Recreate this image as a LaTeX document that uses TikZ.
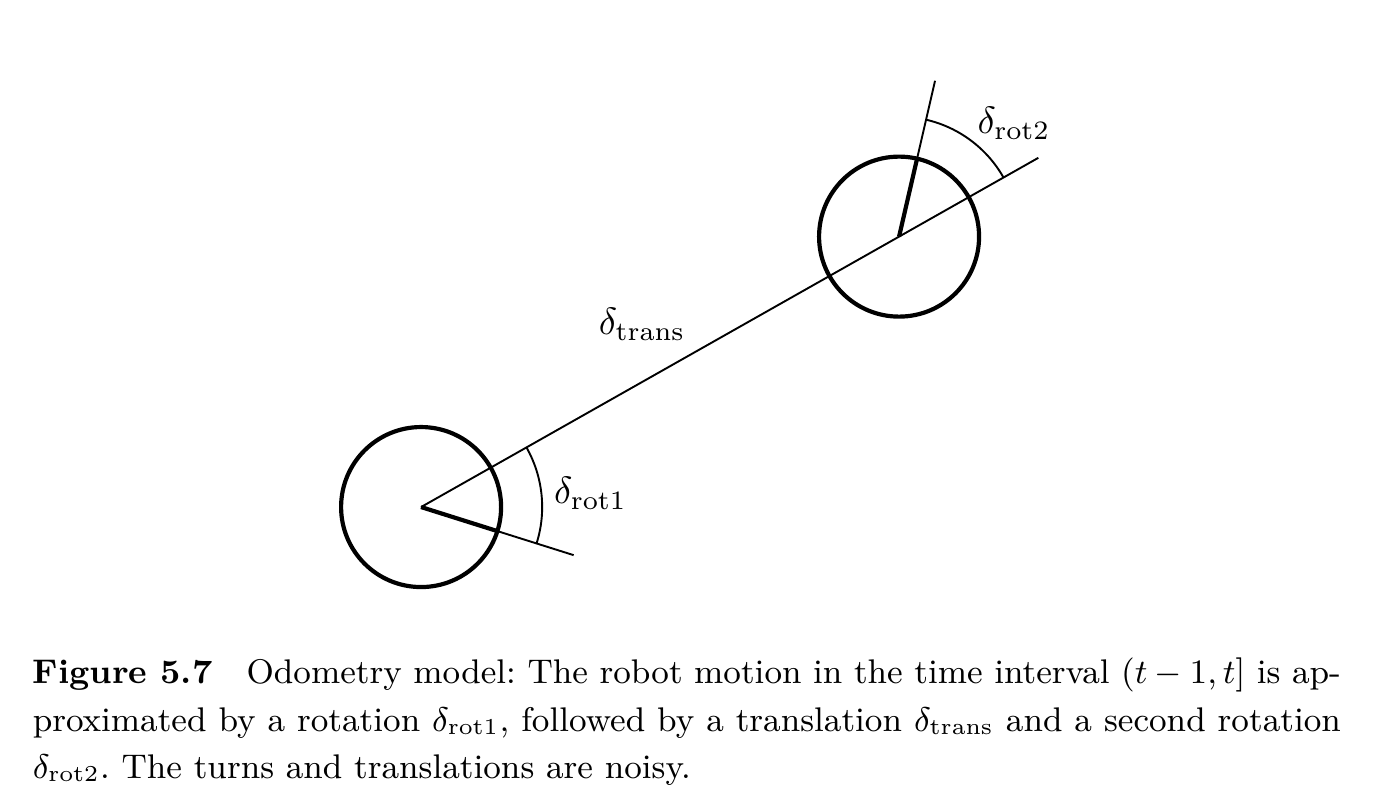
\documentclass[tikz,border=0pt]{standalone}
\usepackage{fix-cm}
\begin{document}
\begin{tikzpicture}
            \useasboundingbox (0, 0) rectangle (12.70, 7.447);
            \coordinate (a) at (3.895, 2.757);
            \coordinate (b) at ([shift={(29.5:5.08)}]a);
            \draw[line width=1.1pt] (a) circle (0.74);
            \draw[line width=1.1pt] (b) circle (0.74);
            \draw[line width=1.1pt] (a) -- ++(-17.5:0.74);
            \draw[line width=1.1pt] (b) -- ++(77:0.74);
            \draw[line width=0.5pt] (a) -- ++(-17.5:1.48);
            \draw[line width=0.5pt] (b) -- ++(77:1.48);
            \draw[line width=0.5pt] (a) -- (b) -- ++(29.5:1.48);
            \draw[line width=0.5pt] ([shift={(-17.5:1.12)}]a) arc (-17.5:29.5:1.12);
            \draw[line width=0.5pt] ([shift={(29.5:1.11)}]b) arc (29.5:77:1.11);
            \node[anchor=base west, inner sep=0] (rot1) at (5.118, 2.790) {$\delta_{\mathrm{rot1}}$};
            \node[anchor=base west, inner sep=0] (trans) at (5.532, 4.352) {$\delta_{\mathrm{trans}}$};
            \node[anchor=base west, inner sep=0] (rot2) at (9.035, 6.213) {$\delta_{\mathrm{rot2}}$};
            % caption
            \node[anchor=base west, inner sep=0, font=\fontsize{9}{12}\selectfont\frenchspacing] (cap1) at (0.296, 1.129) {\makebox[12.10cm][s]{\textbf{Figure 5.7}\quad Odometry model: The robot motion in the time interval $(t-1,t]$ is ap-}};
            \node[anchor=base west, inner sep=0, font=\fontsize{9}{12}\selectfont\frenchspacing] (cap2) at (0.296, 0.685) {\makebox[12.10cm][s]{proximated by a rotation $\delta_{\mathrm{rot1}}$, followed by a translation $\delta_{\mathrm{trans}}$ and a second rotation}};
            \node[anchor=base west, inner sep=0, font=\fontsize{9}{12}\selectfont\frenchspacing] (cap3) at (0.296, 0.250) {$\delta_{\mathrm{rot2}}$. The turns and translations are noisy.};
        \end{tikzpicture}
\end{document}
